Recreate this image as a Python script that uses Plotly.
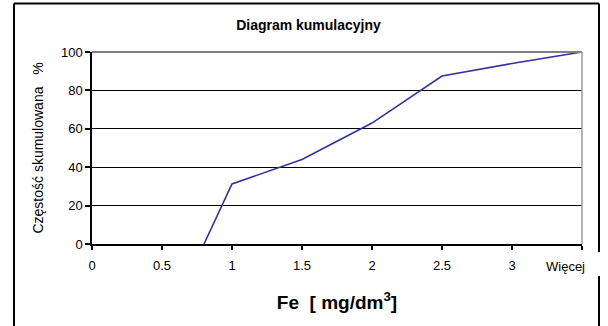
import plotly.graph_objects as go

# Data
bin_positions = [0, 0.5, 1, 1.5, 2, 2.5, 3, 3.5]
bin_labels = ["0", "0.5", "1", "1.5", "2", "2.5", "3", "Więcej"]
fe_values = [0.8, 1, 1.5, 2, 2.5, 3, 3.5]
cumulative_pct = [0, 31.3, 44, 63, 87.5, 94, 100]
y_ticks = [0, 20, 40, 60, 80, 100]

FONT = "Liberation Sans, Arial, sans-serif"

fig = go.Figure()
fig.add_trace(go.Scatter(
    x=fe_values, y=cumulative_pct, mode="lines",
    line=dict(color="#333399", width=1.6), showlegend=False,
))

# last category label is right-aligned to its tick (as in the reference)
tick_text = bin_labels[:-1] + [""]

fig.update_layout(
    width=608, height=326,
    margin=dict(l=92, r=26, t=52, b=82, autoexpand=False),
    paper_bgcolor="white", plot_bgcolor="white",
    font=dict(family=FONT, color="black", size=12),
    title=dict(text="<b>Diagram kumulacyjny</b>", x=308.5/608, xanchor="center",
               y=1 - 25/326, yanchor="middle", font=dict(size=14, family=FONT)),
    xaxis=dict(
        range=[0, 3.5], tickmode="array", tickvals=bin_positions, ticktext=tick_text,
        showgrid=False, zeroline=False, showline=True, linecolor="black", linewidth=1.5,
        ticks="outside", ticklen=4, tickcolor="black", tickwidth=1.5, automargin=False,
        tickfont=dict(size=13), ticklabelstandoff=5,
        title=dict(text="<b>Fe\u00a0\u00a0[ mg/dm<sup>3</sup>]</b>", font=dict(size=19), standoff=23),
    ),
    yaxis=dict(
        range=[0, 100], tickmode="array", tickvals=y_ticks,
        showgrid=True, gridcolor="black", gridwidth=1.2, zeroline=False,
        showline=True, linecolor="black", linewidth=1.5, automargin=False,
        ticks="outside", ticklen=5, tickcolor="black", tickwidth=1.5,
        tickfont=dict(size=13),
        title=dict(text="Częstość skumulowana\u00a0\u00a0\u00a0%", font=dict(size=14), standoff=14),
    ),
    annotations=[
        dict(x=bin_positions[-1], xref="x", y=0, yref="paper", text=bin_labels[-1],
             showarrow=False, xanchor="right", yanchor="middle", xshift=5, yshift=-22,
             font=dict(size=13, family=FONT, color="black")),
    ],
    shapes=[
        # gray top and right frame of plot area
        dict(type="line", xref="paper", yref="paper", x0=0, x1=1, y0=1, y1=1,
             line=dict(color="#808080", width=2)),
        dict(type="line", xref="paper", yref="paper", x0=1, x1=1, y0=0, y1=1,
             line=dict(color="#9a9a9a", width=1.5)),
        # outer chart border
        dict(type="line", xref="paper", yref="paper", x0=-0.1592, x1=-0.1592, y0=1.2526, y1=-0.45,
             line=dict(color="black", width=2)),
        dict(type="line", xref="paper", yref="paper", x0=-0.1592, x1=1.0347, y0=1.2526, y1=1.2526,
             line=dict(color="black", width=2)),
        dict(type="line", xref="paper", yref="paper", x0=1.0347, x1=1.0347, y0=1.2526, y1=-0.042,
             line=dict(color="black", width=2)),
        dict(type="line", xref="paper", yref="paper", x0=1.0347, x1=1.0347, y0=-0.167, y1=-0.45,
             line=dict(color="black", width=2)),
    ],
)

fig.write_html("out.html", config={"displayModeBar": False},
               post_script="document.body.style.margin='0';")
